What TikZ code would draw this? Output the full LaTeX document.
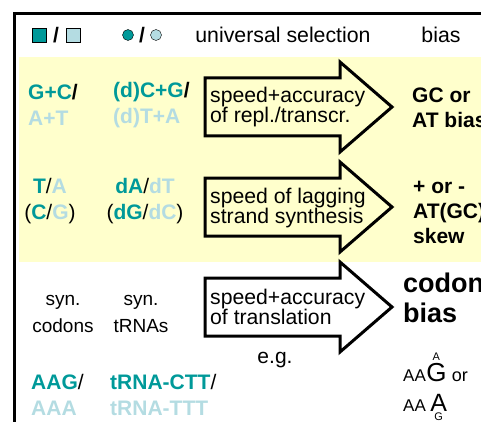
\documentclass[tikz,border=0pt]{standalone}
\usepackage{fontspec}
\setmainfont{Liberation Sans}
\usetikzlibrary{positioning}
\definecolor{dkteal}{HTML}{009999}
\definecolor{ltteal}{HTML}{B4DCE2}
\definecolor{notepad}{HTML}{FFFFCC}
\newcommand{\dkb}[1]{\textcolor{dkteal}{\textbf{#1}}}
\newcommand{\ltb}[1]{\textcolor{ltteal}{\textbf{#1}}}

\begin{document}
\begin{tikzpicture}[x=1pt,y=-1pt,
    txt/.style={inner sep=0pt, font=\fontsize{21.2}{20.7}\selectfont, align=left},
    head/.style={inner sep=0pt, font=\fontsize{21.3}{24}\selectfont},
    base/.style={inner sep=0pt, font=\fontsize{21}{25.5}\selectfont, align=center},
    effect/.style={inner sep=0pt, font=\fontsize{21}{25}\selectfont\bfseries, align=left},
    syn/.style={inner sep=0pt, font=\fontsize{19}{26.5}\selectfont, align=center}]
  \useasboundingbox (0,0) rectangle (481,422);
  \clip (0,0) rectangle (481,422);
  % panel
  \fill [notepad] (19,57) rectangle (490,262);
  \draw [line width=3pt] (14,440) -- (14,14) -- (490,14);
  % header
  \draw [fill=dkteal] (32,28) rectangle (46,42);
  \node [head, font=\fontsize{21}{24}\selectfont\bfseries] (sl1) at (56,35) {/};
  \draw [fill=ltteal] (66,28) rectangle (80,42);
  \draw [fill=dkteal] (128,35) circle (5.5);
  \node [head, font=\fontsize{21}{24}\selectfont\bfseries] (sl2) at (142,35) {/};
  \draw [fill=ltteal] (156,35) circle (5.5);
  \node [head] (uni) at (283,35) {universal selection};
  \node [head] (bias) at (441,35) {bias};
  % the three arrows
  \foreach \c in {107,207,307}
    \draw [line width=3pt] (205,\c-29) -- (340,\c-29) -- (340,\c-45)
          -- (392,\c) -- (340,\c+45) -- (340,\c+29) -- (205,\c+29) -- cycle;
  \node [txt, anchor=west] (why1) at (210,107) {speed+accuracy\\of repl./transcr.};
  \node [txt, anchor=west] (why2) at (210,208) {speed of lagging\\strand synthesis};
  \node [txt, anchor=west] (why3) at (210,307) {speed+accuracy\\of translation};
  % row 1
  \node [base, anchor=west, align=left] (gc) at (28,105)
        {\dkb{G+C}\textbf{/}\\\ltb{A+T}};
  \node [base, anchor=west, align=left] (dgc) at (113,105)
        {\dkb{(d)C+G}\textbf{/}\\\ltb{(d)T+A}};
  \node [effect, anchor=west] (res1) at (412,108) {GC or\\AT bias};
  % row 2
  \node [base] (ta) at (50,201) {\dkb{T}/\ltb{A}\\(\dkb{C}/\ltb{G})};
  \node [base] (dta) at (145,201) {\dkb{dA}/\ltb{dT}\\(\dkb{dG}/\ltb{dC})};
  \node [effect, anchor=west] (res2) at (413,212) {+ or -\\AT(GC)\\skew};
  % row 3
  \node [syn] (codons) at (63,314) {syn.\\codons};
  \node [syn] (trnas) at (141,314) {syn.\\tRNAs};
  \node [effect, anchor=west, font=\fontsize{27}{30}\selectfont\bfseries]
        (res3) at (403,298) {codon\\bias};
  \node [syn, font=\fontsize{21}{24}\selectfont] (eg) at (275,360) {e.g.};
  \node [base, anchor=west, align=left] (aag) at (31,395)
        {\dkb{AAG}/\\\ltb{AAA}};
  \node [base, anchor=west, align=left] (trna) at (110,395)
        {\dkb{tRNA-CTT}/\\\ltb{tRNA-TTT}};
  % codon examples
  \node [syn, font=\fontsize{17}{17}\selectfont, anchor=base west] (aa1) at (403,381) {AA};
  \node [inner sep=0pt, anchor=base west, font=\fontsize{26}{26}\selectfont]
        (bigg) at (aa1.base east) {G};
  \node [inner sep=0pt, anchor=base, font=\fontsize{11}{11}\selectfont]
        (smalla) at ([yshift=21]bigg.base) {A};
  \node [syn, font=\fontsize{18}{18}\selectfont, anchor=base west] (or) at (bigg.base east) {\ or};
  \node [syn, font=\fontsize{17}{17}\selectfont, anchor=base west] (aa2) at (403,411) {AA};
  \node [inner sep=0pt, anchor=base west, font=\fontsize{25}{25}\selectfont]
        (biga) at ([xshift=4]aa2.base east) {A};
  \node [inner sep=0pt, anchor=north, font=\fontsize{11}{11}\selectfont]
        (smallg) at ([yshift=-2]biga.base) {G};
\end{tikzpicture}
\end{document}
